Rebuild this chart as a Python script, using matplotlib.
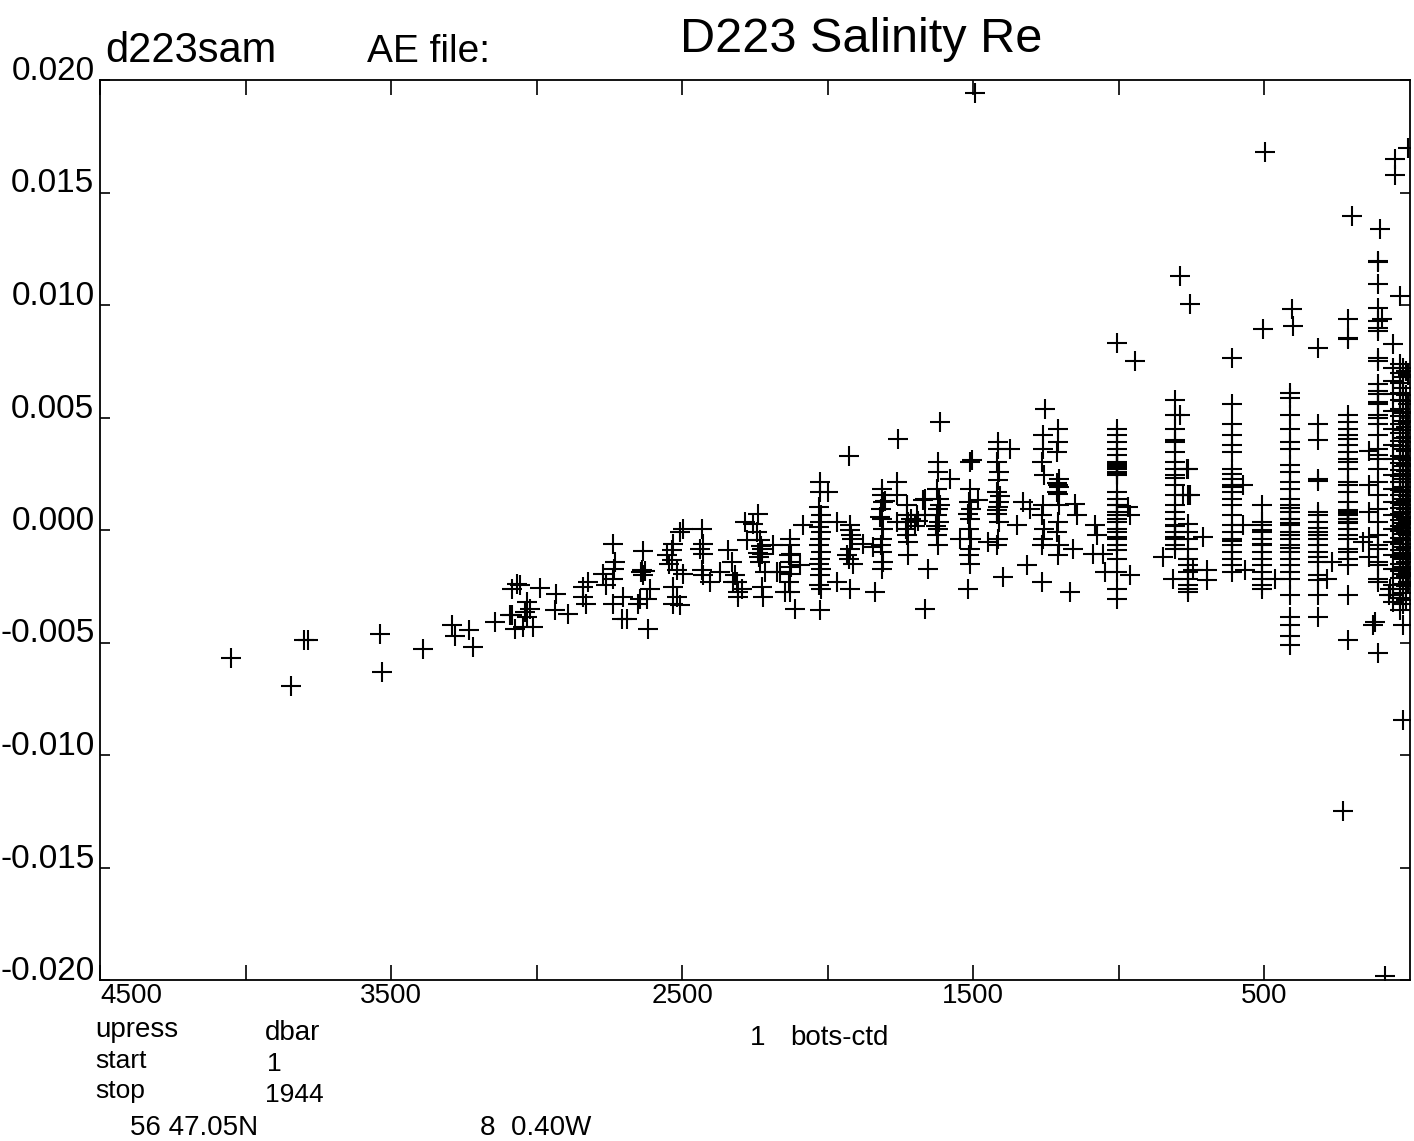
import matplotlib
matplotlib.use("Agg")
import matplotlib.pyplot as plt

plt.rcParams['font.family'] = ['Liberation Sans', 'DejaVu Sans']

# ---- data: (pressure dbar, salinity residual) --------------------------
deep = [
    (4050, -0.00567), (3844, -0.00692), (3800, -0.00487), (3785, -0.00487),
    (3538, -0.00464), (3531, -0.00629), (3390, -0.00531), (3291, -0.00420),
    (3281, -0.00473), (3232, -0.00446), (3219, -0.00522), (3143, -0.00411),
]

band_3000 = [
    (3085, -0.00263), (3068, -0.00241), (3057, -0.00246), (3033, -0.00321),
    (3023, -0.00353), (3092, -0.00379), (3047, -0.00433), (3033, -0.00388),
    (3013, -0.00433), (3074, -0.00442), (3085, -0.00379), (3040, -0.00366),
    (2989, -0.00259), (2934, -0.00286), (2937, -0.00357), (2892, -0.00375),
    (2841, -0.00254), (2824, -0.00232), (2841, -0.00299), (2831, -0.00330),
    (2772, -0.00196), (2738, -0.00062), (2731, -0.00143), (2734, -0.00174),
    (2738, -0.00219), (2762, -0.00246), (2738, -0.00330), (2707, -0.00397),
    (2690, -0.00397), (2704, -0.00299), (2635, -0.00094), (2638, -0.00179),
    (2635, -0.00201), (2611, -0.00263), (2645, -0.00308), (2621, -0.00308),
    (2652, -0.00330), (2618, -0.00442), (2640, -0.00187), (2628, -0.00184),
]

band_2400 = [
    (2552, -0.00112), (2535, -0.00089), (2532, -0.00062), (2508, -0.00009),
    (2497, 0.00004), (2535, -0.00134), (2518, -0.00179), (2497, -0.00196),
    (2532, -0.00254), (2518, -0.00299), (2532, -0.00330), (2508, -0.00335),
    (2545, -0.00150), (2432, 0.00004), (2429, -0.00062), (2439, -0.00085),
    (2429, -0.00107), (2432, -0.00179), (2429, -0.00201), (2405, -0.00232),
    (2370, -0.00187), (2343, -0.00089), (2329, -0.00143), (2319, -0.00201),
    (2312, -0.00232), (2295, -0.00263), (2308, -0.00277), (2326, -0.00232),
    (2308, -0.00299), (2284, 0.00036), (2257, 0.00027), (2240, 0.00071),
    (2243, -0.00009), (2278, -0.00045), (2233, -0.00045), (2226, -0.00085),
    (2226, -0.00107), (2233, -0.00143), (2216, -0.00187), (2226, -0.00254),
    (2223, -0.00299), (2188, -0.00067), (2175, -0.00187), (2240, -0.00100),
    (2235, -0.00120), (2230, -0.00070),
]

band_1600 = [
    (2130, -0.00040), (2130, -0.00067), (2127, -0.00107), (2133, -0.00112),
    (2130, -0.00143), (2126, -0.00165), (2130, -0.00196), (2134, -0.00232),
    (2130, -0.00277), (2164, -0.00187), (2147, -0.00277), (2113, -0.00353),
    (2096, -0.00156),
    (2027, 0.00214), (2027, 0.00170), (2030, 0.00103), (2024, 0.00067),
    (2027, 0.00036), (2030, 0.00013), (2024, -0.00009), (2027, -0.00040),
    (2030, -0.00067), (2024, -0.00098), (2027, -0.00129), (2030, -0.00152),
    (2024, -0.00174), (2027, -0.00201), (2030, -0.00246), (2024, -0.00263),
    (2027, -0.00357), (2085, 0.00022), (1968, 0.00036), (1968, -0.00232),
    (1999, 0.00170), (1924, 0.00022), (1917, -0.00040), (1924, -0.00085),
    (1913, -0.00152), (1934, -0.00112), (1879, -0.00062), (1838, -0.00277),
    (1927, 0.00330), (1924, 0.00000), (1920, -0.00020), (1928, -0.00130),
    (1924, -0.00263),
    (1814, 0.00183), (1814, 0.00156), (1811, 0.00125), (1817, 0.00094),
    (1814, 0.00049), (1811, 0.00004), (1814, -0.00040), (1817, -0.00067),
    (1814, -0.00098), (1811, -0.00143), (1814, -0.00174), (1845, -0.00076),
    (1762, 0.00214), (1762, 0.00156), (1759, 0.00406), (1805, 0.00130),
    (1820, 0.00060),
    (1728, 0.00112), (1728, 0.00067), (1725, 0.00036), (1731, 0.00004),
    (1728, -0.00022), (1725, -0.00054), (1694, 0.00067), (1673, 0.00134),
    (1725, -0.00112), (1762, 0.00036), (1656, -0.00174), (1666, -0.00353),
    (1615, 0.00482), (1715, 0.00050), (1700, 0.00020), (1690, 0.00040),
    (1622, 0.00304), (1622, 0.00259), (1625, 0.00183), (1619, 0.00138),
    (1622, 0.00094), (1625, 0.00067), (1619, 0.00036), (1622, 0.00004),
    (1625, -0.00022), (1622, -0.00067), (1580, 0.00228), (1666, 0.00138),
    (1666, 0.00067), (1615, 0.00110), (1628, 0.00020),
]

band_1200 = [
    (1512, 0.00304), (1512, 0.00183), (1515, 0.00125), (1509, 0.00094),
    (1512, 0.00049), (1515, 0.00004), (1509, -0.00040), (1512, -0.00085),
    (1515, -0.00112), (1512, -0.00152), (1518, -0.00263), (1484, 0.00134),
    (1546, -0.00040), (1505, 0.00310), (1520, 0.00070),
    (1415, 0.00393), (1415, 0.00362), (1418, 0.00304), (1412, 0.00259),
    (1415, 0.00223), (1418, 0.00170), (1412, 0.00125), (1415, 0.00103),
    (1418, 0.00071), (1412, 0.00036), (1415, -0.00040), (1418, -0.00067),
    (1374, 0.00362), (1398, -0.00210), (1450, -0.00054), (1410, 0.00150),
    (1420, 0.00090), (1316, -0.00156), (1330, 0.00125), (1350, 0.00022),
    (1264, -0.00232), (1254, 0.00540), (1305, 0.00094),
    (1261, 0.00424), (1261, 0.00362), (1264, 0.00304), (1258, 0.00246),
    (1261, 0.00112), (1264, 0.00067), (1258, 0.00004), (1261, -0.00040),
    (1264, -0.00067),
    (1209, 0.00451), (1209, 0.00393), (1212, 0.00348), (1206, 0.00228),
    (1209, 0.00201), (1212, 0.00170), (1206, 0.00112), (1209, 0.00036),
    (1212, -0.00009), (1206, -0.00067), (1209, -0.00112), (1168, -0.00277),
    (1144, 0.00067), (1151, 0.00116), (1158, -0.00085), (1082, 0.00022),
    (1089, -0.00107), (1212, 0.00210), (1205, 0.00190), (1210, 0.00160),
]

# standard bottle depths near the surface: one pressure per column
col_press = [1007, 807, 763, 612, 509, 412, 316, 213, 140, 110, 59, 35, 24, 14, 7]

r1007 = [0.00451, 0.00424, 0.00393, 0.00362, 0.00335, 0.00304, 0.00290, 0.00272,
         0.00259, 0.00246, 0.00170, 0.00138, 0.00112, 0.00080, 0.00067, 0.00036,
         0.00004, -0.00009, -0.00040, -0.00067, -0.00089, -0.00129, -0.00187,
         -0.00263, -0.00308, 0.00300, 0.00280, 0.00250, 0.00110, 0.00050, -0.00030]
r807 = [0.00580, 0.00513, 0.00451, 0.00393, 0.00348, 0.00304, 0.00272, 0.00246,
        0.00201, 0.00156, 0.00112, 0.00080, 0.00049, 0.00022, -0.00009, -0.00040,
        -0.00067, -0.00085, 0.00400, 0.00230, 0.00020, -0.00030]
r763 = [0.00027, -0.00009, -0.00040, -0.00085, -0.00129, -0.00156, -0.00187,
        -0.00219, -0.00246, -0.00277, -0.00263, 0.00272, 0.00156]
r612 = [0.00558, 0.00469, 0.00424, 0.00379, 0.00348, 0.00272, 0.00228, 0.00201,
        0.00170, 0.00138, 0.00112, 0.00067, 0.00022, -0.00009, -0.00040, -0.00067,
        -0.00098, -0.00129, -0.00156, -0.00187, 0.00250, 0.00190, -0.00050, 0.00763]
r509 = [0.00112, 0.00036, 0.00022, -0.00009, -0.00040, -0.00067, -0.00098, -0.00129,
        -0.00156, -0.00187, -0.00219, -0.00246, -0.00263, 0.00000, -0.00060]
r412 = [0.00607, 0.00585, 0.00513, 0.00451, 0.00393, 0.00362, 0.00290, 0.00259,
        0.00214, 0.00183, 0.00138, 0.00112, 0.00080, 0.00049, 0.00022, -0.00009,
        -0.00040, -0.00067, -0.00098, -0.00129, -0.00156, -0.00187, -0.00219,
        -0.00290, -0.00388, -0.00424, -0.00469, -0.00509, 0.00050, 0.00030,
        -0.00020, 0.00100, -0.00080]
r316 = [0.00808, 0.00469, 0.00402, 0.00228, 0.00220, 0.00080, 0.00067, 0.00036,
        0.00010, -0.00009, -0.00022, -0.00040, -0.00067, -0.00098, -0.00120,
        -0.00143, -0.00201, -0.00223, -0.00290, -0.00388]
r213 = [0.00937, 0.00853, 0.00850, 0.00513, 0.00482, 0.00451, 0.00424, 0.00406,
        0.00379, 0.00348, 0.00317, 0.00304, 0.00272, 0.00214, 0.00201, 0.00170,
        0.00125, 0.00090, 0.00080, 0.00070, 0.00067, 0.00050, 0.00049, 0.00036,
        0.00030, 0.00004, -0.00022, -0.00040, -0.00085, -0.00098, -0.00129,
        -0.00156, -0.00290, -0.00491]
r140 = [0.00350, 0.00200, 0.00080, -0.00030, -0.00120]
r110 = [0.01196, 0.01190, 0.01094, 0.00987, 0.00929, 0.00897, 0.00884, 0.00763,
        0.00750, 0.00647, 0.00616, 0.00603, 0.00571, 0.00558, 0.00513, 0.00496,
        0.00469, 0.00424, 0.00362, 0.00335, 0.00317, 0.00272, 0.00214, 0.00156,
        0.00094, 0.00036, -0.00022, -0.00067, -0.00085, -0.00143, -0.00156,
        -0.00219, -0.00232, -0.00545]
r59 = [0.00826, 0.00719, 0.00661, 0.00603, 0.00527, 0.00451, 0.00379, 0.00317,
       0.00246, 0.00183, 0.00125, 0.00067, 0.00004, -0.00054, -0.00112, -0.00174,
       -0.00246, -0.00321, -0.00290]
r35 = [0.01040, 0.00740, 0.00700, 0.00655, 0.00610, 0.00580, 0.00540, 0.00505,
       0.00470, 0.00430, 0.00395, 0.00372, 0.00330, 0.00300, 0.00268, 0.00240,
       0.00212, 0.00180, 0.00155, 0.00120, 0.00098, 0.00071, 0.00045, 0.00020,
       -0.00005, -0.00035, -0.00062, -0.00090, -0.00118, -0.00150, -0.00180,
       -0.00215, -0.00260, -0.00300, -0.00355]
r24 = [0.00720, 0.00680, 0.00630, 0.00575, 0.00520, 0.00485, 0.00445, 0.00410,
       0.00362, 0.00320, 0.00285, 0.00250, 0.00225, 0.00190, 0.00168, 0.00140,
       0.00110, 0.00082, 0.00060, 0.00030, 0.00008, -0.00018, -0.00045, -0.00075,
       -0.00100, -0.00130, -0.00165, -0.00195, -0.00240, -0.00280, -0.00330,
       -0.00424, -0.00844]
r14 = [0.00705, 0.00600, 0.00525, 0.00460, 0.00415, 0.00350, 0.00295, 0.00262,
       0.00215, 0.00175, 0.00128, 0.00095, 0.00055, 0.00025, -0.00010, -0.00040,
       -0.00080, -0.00110, -0.00140, -0.00172, -0.00205, -0.00250, -0.00310]
r7 = [0.01700, 0.00690, 0.00560, 0.00480, 0.00390, 0.00310, 0.00240, 0.00150,
      0.00100, 0.00040, -0.00020, -0.00060, -0.00120, -0.00190, -0.00230]
col_resid = [r1007, r807, r763, r612, r509, r412, r316, r213, r140, r110,
             r59, r35, r24, r14, r7]

shallow_extra = [
    (1007, 0.00830), (945, 0.00750), (969, 0.00103), (962, 0.00067),
    (1075, -0.00022), (1055, -0.00107), (1048, -0.00187), (962, -0.00201),
    (790, 0.00513), (766, 0.00272), (780, 0.00156), (756, 0.00156),
    (790, 0.01129), (756, 0.01004), (711, -0.00031), (697, -0.00179),
    (697, -0.00223), (849, -0.00121), (814, -0.00219), (746, -0.00179),
    (574, 0.00201), (574, 0.00022), (567, -0.00179), (464, -0.00219),
    (505, 0.00893), (498, 0.01678), (405, 0.00982), (402, 0.00906),
    (285, -0.00219), (268, -0.00143), (199, 0.01397), (230, -0.01250),
    (103, 0.01340), (96, 0.00937), (127, -0.00420), (120, -0.00410),
    (162, -0.00054), (69, -0.00263), (52, 0.01650), (52, 0.01576),
    (73, -0.00290), (1494, 0.01942), (86, -0.01980),
]

# ---- assemble ---------------------------------------------------------
press, resid = [], []
for group in (deep, band_3000, band_2400, band_1600, band_1200, shallow_extra):
    for p, r in group:
        press.append(p)
        resid.append(r)
for p, rs in zip(col_press, col_resid):
    press.extend([p] * len(rs))
    resid.extend(rs)

W, H = 1414, 1141
fig = plt.figure(figsize=(W / 100, H / 100), dpi=100)
ax = fig.add_axes([100 / W, 1 - 980 / H, 1310 / W, 900 / H])

ax.plot(press, resid, linestyle="none", marker="+", color="black",
        markersize=14, markeredgewidth=1.5)

ax.set_xlim(4500, 0)
ax.set_ylim(-0.020, 0.020)

xt = [4500, 4000, 3500, 3000, 2500, 2000, 1500, 1000, 500]
xl = ["4500", "", "3500", "", "2500", "", "1500", "", "500"]
ax.set_xticks(xt, labels=xl)
ax.get_xticklabels()[0].set_ha("left")

yt = [-0.020, -0.015, -0.010, -0.005, 0.0, 0.005, 0.010, 0.015, 0.020]
ax.set_yticks(yt, labels=[f"{v:.3f}" for v in yt])
for lab in ax.get_yticklabels():
    lab.set_va("baseline")

ax.tick_params(axis="x", direction="in", length=11, width=1.2, top=True,
               labelsize=20, pad=2)
ax.tick_params(axis="y", direction="in", length=7, width=1.2, right=True,
               labelsize=24, pad=4)
for s in ax.spines.values():
    s.set_linewidth(1.3)


def ftext(x, y, s, size=20, **kw):
    fig.text(x / W, 1 - y / H, s, fontsize=size, va="baseline", **kw)


ftext(105, 62, "d223sam", size=30)
ftext(367, 62, "AE file:", size=28)
ftext(680, 52, "D223 Salinity Re", size=35)

ftext(95, 1037, "upress")
ftext(265, 1040, "dbar")
ftext(750, 1045, "1")
ftext(790, 1045, "bots-ctd")
ftext(95, 1068, "start", size=19)
ftext(267, 1071, "1", size=19)
ftext(95, 1098, "stop", size=19)
ftext(265, 1102, "1944", size=19)
ftext(130, 1135, "56 47.05N")
ftext(480, 1135, "8  0.40W")

fig.savefig("out.png", dpi=100)
